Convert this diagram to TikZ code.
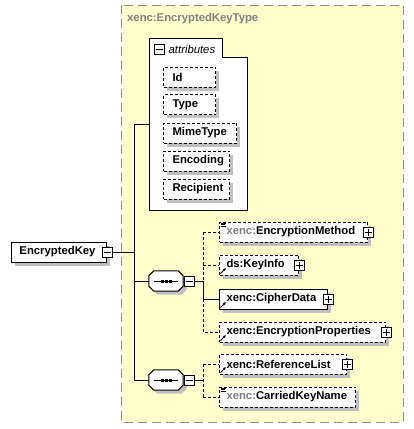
\documentclass[tikz,border=0pt]{standalone}
\usepackage{fontspec}
\setmainfont{Liberation Sans}
\usetikzlibrary{shadows,calc,arrows.meta}
\definecolor{bgyellow}{HTML}{FFFFCC}
\definecolor{framegray}{HTML}{8C8C8C}
\definecolor{shade}{HTML}{C0C0C0}
\definecolor{greytext}{HTML}{808080}
\tikzset{
  lbl/.style={font=\fontsize{11.3}{13}\selectfont\bfseries},
  shad/.style={drop shadow={shadow xshift=3.5pt, shadow yshift=-3.5pt, fill=shade, opacity=1, draw=none}},
  box/.style={draw=black, line width=1pt, fill=white, minimum height=20pt, inner ysep=0pt,
    align=left, anchor=west, lbl, shad},
  optbox/.style={box, dash pattern=on 3pt off 2pt},
  conn/.style={line width=1pt},
  optconn/.style={conn, dash pattern=on 3pt off 2pt},
  pm/.style={draw=black, line width=1pt, fill=white, minimum size=10pt, inner sep=0pt},
  minusbox/.style={pm, path picture={\draw[line width=1pt] ([xshift=-3.5pt]path picture bounding box.center) -- ([xshift=3.5pt]path picture bounding box.center);}},
  plusbox/.style={pm, path picture={\draw[line width=1pt] ([xshift=-3.5pt]path picture bounding box.center) -- ([xshift=3.5pt]path picture bounding box.center) ([yshift=-3.5pt]path picture bounding box.center) -- ([yshift=3.5pt]path picture bounding box.center);}},
  seqarea/.style={minimum width=34pt, minimum height=20pt, inner sep=0pt},
}
\newcommand\refarrow[1]{\draw[line width=1pt,-{Latex[length=3pt,width=3pt]}] ([shift={(1.5pt,2pt)}]#1.south west) -- ([shift={(7pt,7.5pt)}]#1.south west);}
\newcommand\simpleicon[1]{\draw[line width=0.7pt] ([shift={(1.5pt,-1.5pt)}]#1.north west) -- ++(5pt,0pt) ([shift={(1.5pt,-3.2pt)}]#1.north west) -- ++(4pt,0pt) ([shift={(1.5pt,-4.9pt)}]#1.north west) -- ++(5pt,0pt);}
\newcommand\seqshape[1]{%
  \draw[line width=1pt, fill=white, shad]
    ([xshift=5pt]#1.north west) -- ([xshift=-5pt]#1.north east) -- ([yshift=-5pt]#1.north east)
    -- ([yshift=5pt]#1.south east) -- ([xshift=-5pt]#1.south east) -- ([xshift=5pt]#1.south west)
    -- ([yshift=5pt]#1.south west) -- ([yshift=-5pt]#1.north west) -- cycle;
  \draw[line width=1pt] ([xshift=-12pt]#1.center) -- ([xshift=12pt]#1.center);
  \foreach \dx in {-4,0,4} \fill ([shift={(\dx pt-1.5pt,-1.5pt)}]#1.center) rectangle ++(3pt,3pt);
}
\begin{document}
\begin{tikzpicture}[x=1pt,y=-1pt]
\useasboundingbox (0,0) rectangle (413,429);
% type frame
\draw[fill=bgyellow, draw=framegray, line width=1pt, dash pattern=on 9pt off 5pt] (121,5) rectangle (403,422);
\node[lbl, text=greytext, anchor=west, inner sep=0pt] (title) at (127,19) {xenc:EncryptedKeyType};
% attributes group
\draw[line width=1pt, fill=white] (149,38) -- (222,38) -- (222,57) -- (247,57) -- (247,210) -- (149,210) -- cycle;
\node[inner sep=0pt, minimum width=98pt, minimum height=172pt, anchor=north west] (attr) at (149,38) {};
\node[minusbox] (attrm) at (159.5,49) {};
\node[anchor=west, inner sep=0pt, font=\fontsize{11.3}{13}\selectfont\itshape] (attrl) at (168.5,49) {attributes};
\node[optbox, inner xsep=9pt, text width=34pt] (aid) at (163,77) {Id};
\node[optbox, inner xsep=9pt, text width=34pt] (atype) at (163,104.5) {Type};
\node[optbox, inner xsep=9pt, text width=55pt] (amime) at (163,133) {MimeType};
\node[optbox, inner xsep=9pt, text width=48pt] (aenc) at (163,161) {Encoding};
\node[optbox, inner xsep=9pt, text width=48pt] (arec) at (163,189) {Recipient};
% root element
\node[box, inner xsep=8pt, text width=79pt] (ek) at (11,252) {EncryptedKey};
\node[minusbox] (ekm) at (ek.east) {};
% sequences
\node[seqarea] (seq1) at (166,281) {};
\seqshape{seq1}
\node[minusbox] (s1m) at (189,281) {};
\node[seqarea] (seq2) at (166,380) {};
\seqshape{seq2}
\node[minusbox] (s2m) at (189,380) {};
% children
\node[optbox, inner xsep=7pt, text width=134pt] (em) at (219,232) {\textcolor{greytext}{xenc:}EncryptionMethod};
\node[plusbox] (emp) at (em.east) {};
\simpleicon{em}
\node[optbox, inner xsep=7pt, text width=65pt] (ki) at (219,265) {ds:KeyInfo};
\node[plusbox] (kip) at (ki.east) {};
\refarrow{ki}
\node[box, inner xsep=7pt, text width=94pt] (cd) at (219,299) {xenc:CipherData};
\node[plusbox] (cdp) at (cd.east) {};
\refarrow{cd}
\node[optbox, inner xsep=7pt, text width=152pt] (ep) at (219,332) {xenc:EncryptionProperties};
\node[plusbox] (epp) at (ep.east) {};
\refarrow{ep}
\node[optbox, inner xsep=7pt, text width=113pt] (rl) at (219,364) {xenc:ReferenceList};
\node[plusbox] (rlp) at (rl.east) {};
\refarrow{rl}
\node[optbox, inner xsep=7pt, text width=122pt] (ck) at (219,397) {\textcolor{greytext}{xenc:}CarriedKeyName};
\simpleicon{ck}
% hubs
\coordinate (hub) at (134.5,252);
\coordinate (b1) at (203,281);
\coordinate (b2) at (203,380);
\draw[conn] (ekm.east) -- (hub);
\draw[conn] (attr.west -| hub) -- (attr.west);
\draw[conn] (attr.west -| hub) -- (seq2.west -| hub) -- (seq2.west);
\draw[conn] (seq1.west -| hub) -- (seq1.west);
% sequence 1 branches
\draw[conn] (s1m.east) -- (b1);
\draw[optconn] (em.west -| b1) -- (b1);
\draw[conn] (b1) -- (cd.west -| b1) -- (cd.west);
\draw[optconn] (cd.west -| b1) -- (ep.west -| b1) -- (ep.west);
\draw[optconn] (em.west -| b1) -- (em.west);
\draw[optconn] (ki.west -| b1) -- (ki.west);
% sequence 2 branches
\draw[conn] (s2m.east) -- (b2);
\draw[optconn] (rl.west -| b2) -- (ck.west -| b2);
\draw[optconn] (rl.west -| b2) -- (rl.west);
\draw[optconn] (ck.west -| b2) -- (ck.west);
\end{tikzpicture}
\end{document}
